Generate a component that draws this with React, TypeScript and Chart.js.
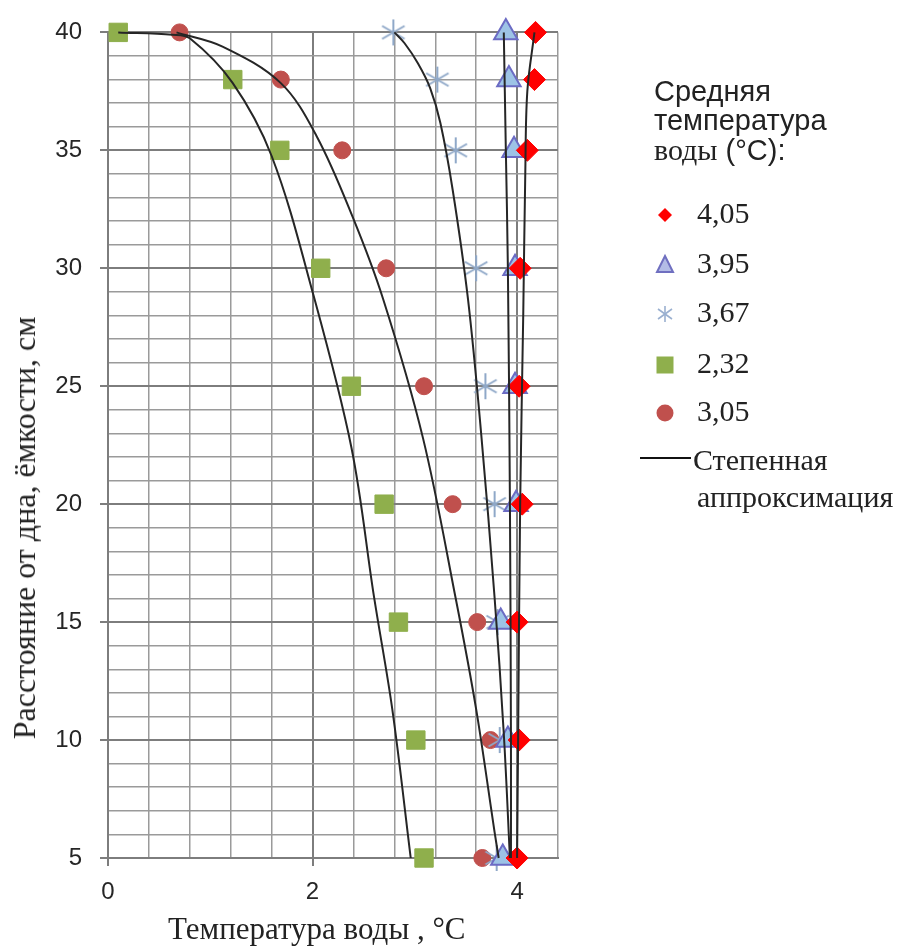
import React, { useEffect, useRef } from "react";
import { Chart, registerables } from "chart.js";

Chart.register(...registerables);

// ---- data ----
const DEPTHS = [40, 38, 35, 30, 25, 20, 15, 10, 5];
const T_405 = [4.18, 4.17, 4.1, 4.03, 4.02, 4.05, 4.0, 4.02, 4.0];
const T_395 = [3.89, 3.92, 3.97, 3.98, 3.98, 3.99, 3.84, 3.91, 3.86];
const T_367 = [2.79, 3.22, 3.4, 3.6, 3.69, 3.78, 3.81, 3.83, 3.8];
const T_232 = [0.1, 1.22, 1.68, 2.08, 2.38, 2.7, 2.84, 3.01, 3.09];
const T_305 = [0.7, 1.69, 2.29, 2.72, 3.09, 3.37, 3.61, 3.74, 3.66];

// power-approximation curves
const FIT_405_X = [4.17, 4.1, 4.08, 4.06, 4.03, 4.01, 4.0];
const FIT_405_Y = [40, 37.5, 34, 28, 20, 10, 5];
const FIT_395_X = [3.87, 3.89, 3.91, 3.93, 3.94, 3.94];
const FIT_395_Y = [40, 35, 30, 20, 10, 5];
const FIT_367_X = [2.8, 2.9, 3.03, 3.15, 3.25, 3.37, 3.52, 3.65, 3.78, 3.87, 3.93];
const FIT_367_Y = [40, 39.54, 38.69, 37.64, 36.16, 33.33, 28.69, 22.93, 16.04, 10.27, 5];
const FIT_232_X = [0.1, 0.63, 0.8, 1.22, 1.6, 2.0, 2.38, 2.6, 2.78, 2.96];
const FIT_232_Y = [40, 39.9, 39.75, 37.85, 34.76, 29.0, 22.4, 16.1, 11.3, 5];
const FIT_305_X = [0.67, 1.12, 1.69, 2.04, 2.39, 2.69, 3.08, 3.4, 3.6, 3.78, 3.82];
const FIT_305_Y = [40, 39.4, 37.85, 35.6, 32.2, 28.7, 22.8, 16.0, 11.3, 6.1, 5];

const SERIES_LABELS = ["4,05", "3,95", "3,67", "2,32", "3,05"];
const X_LABELED_TICKS = [0, 2, 4];
const Y_LABELED_TICKS = [5, 10, 15, 20, 25, 30, 35, 40];
const X_TITLE = "Температура воды , °C";
const Y_TITLE = "Расстояние от дна, ёмкости, см";
const LEGEND_TITLE = ["Средняя", "температура"];
const LEGEND_TITLE_LAST_SERIF = "воды";
const LEGEND_TITLE_LAST_SANS = " (°C):";
const FIT_LABEL = ["Степенная", "аппроксимация"];

const pts = (xs: number[], ys: number[]) => xs.map((x, i) => ({ x, y: ys[i] }));

const isLabeled = (list: number[], v: number) => list.some((t) => Math.abs(t - v) < 1e-6);

function makeAsterisk(size: number, color: string, lw: number) {
  const c = document.createElement("canvas");
  c.width = size;
  c.height = size;
  const g = c.getContext("2d")!;
  g.strokeStyle = color;
  g.lineWidth = lw;
  const m = size / 2;
  const r = size / 2 - 1;
  g.beginPath();
  g.moveTo(m, m - r);
  g.lineTo(m, m + r);
  const dx = r * Math.cos(Math.PI / 6);
  const dy = r * Math.sin(Math.PI / 6);
  g.moveTo(m - dx, m - dy);
  g.lineTo(m + dx, m + dy);
  g.moveTo(m - dx, m + dy);
  g.lineTo(m + dx, m - dy);
  g.stroke();
  return c;
}

const SANS = "'Liberation Sans', Arial, sans-serif";
const SERIF = "'Liberation Serif', 'Times New Roman', serif";

export default function App() {
  const ref = useRef<HTMLCanvasElement | null>(null);

  useEffect(() => {
    if (!ref.current) return;
    const star = makeAsterisk(28, "#8FA8C8", 2);
    const fitStyle = {
      type: "line" as const,
      showLine: true,
      borderColor: "#262626",
      borderWidth: 2,
      pointRadius: 0,
      tension: 0.35,
      fill: false,
      clip: false as any,
      order: 0,
    };
    const chart = new Chart(ref.current, {
      type: "scatter",
      data: {
        datasets: [
          { ...fitStyle, label: "fit405", data: pts(FIT_405_X, FIT_405_Y) },
          { ...fitStyle, label: "fit395", data: pts(FIT_395_X, FIT_395_Y) },
          { ...fitStyle, label: "fit367", data: pts(FIT_367_X, FIT_367_Y) },
          { ...fitStyle, label: "fit232", data: pts(FIT_232_X, FIT_232_Y) },
          { ...fitStyle, label: "fit305", data: pts(FIT_305_X, FIT_305_Y) },
          {
            label: SERIES_LABELS[0],
            data: pts(T_405, DEPTHS),
            pointStyle: "rectRot",
            pointRadius: 11,
            backgroundColor: "#FF0000",
            borderColor: "#FF0000",
            borderWidth: 1,
            clip: false as any,
            order: 1,
          },
          {
            label: SERIES_LABELS[1],
            data: pts(T_395, DEPTHS),
            pointStyle: "triangle",
            pointRadius: 13.5,
            backgroundColor: "#9DC3E6",
            borderColor: "#6B6BC4",
            borderWidth: 2,
            clip: false as any,
            order: 2,
          },
          {
            label: SERIES_LABELS[2],
            data: pts(T_367, DEPTHS),
            pointStyle: star as any,
            pointRadius: 14,
            clip: false as any,
            order: 3,
          },
          {
            label: SERIES_LABELS[3],
            data: pts(T_232, DEPTHS),
            pointStyle: "rect",
            pointRadius: 13,
            backgroundColor: "#8FAF4C",
            borderColor: "#8FAF4C",
            borderWidth: 1,
            clip: false as any,
            order: 4,
          },
          {
            label: SERIES_LABELS[4],
            data: pts(T_305, DEPTHS),
            pointStyle: "circle",
            pointRadius: 8.5,
            backgroundColor: "#C0504D",
            borderColor: "#C0504D",
            borderWidth: 1,
            clip: false as any,
            order: 5,
          },
        ] as any,
      },
      options: {
        responsive: false,
        animation: false,
        events: [],
        layout: { padding: { top: 29, right: 349, bottom: 0, left: 0 } },
        plugins: { legend: { display: false }, tooltip: { enabled: false } },
        scales: {
          x: {
            type: "linear",
            min: 0,
            max: 4.4,
            afterFit: (s: any) => {
              s.height = 88;
            },
            ticks: {
              stepSize: 0.4,
              autoSkip: false,
              maxRotation: 0,
              padding: 12,
              color: "#262626",
              font: { family: SANS, size: 24 },
              callback: (v: any) => (isLabeled(X_LABELED_TICKS, Number(v)) ? String(Math.round(Number(v))) : ""),
            },
            grid: {
              color: (c: any) => (isLabeled(X_LABELED_TICKS, c.tick?.value) ? "#7d7d7d" : "#9a9a9a"),
              lineWidth: (c: any) => (isLabeled(X_LABELED_TICKS, c.tick?.value) ? 2 : 1.5),
              tickColor: (c: any) => (isLabeled(X_LABELED_TICKS, c.tick?.value) ? "#7d7d7d" : "rgba(0,0,0,0)"),
              tickLength: 8,
            },
            border: { color: "#7d7d7d", width: 2 },
          },
          y: {
            type: "linear",
            min: 5,
            max: 40,
            afterFit: (s: any) => {
              s.width = 108;
            },
            ticks: {
              stepSize: 1,
              autoSkip: false,
              padding: 18,
              color: "#262626",
              font: { family: SANS, size: 24 },
              callback: (v: any) => (isLabeled(Y_LABELED_TICKS, Number(v)) ? String(v) : ""),
            },
            grid: {
              color: (c: any) => (isLabeled(Y_LABELED_TICKS, c.tick?.value) ? "#7d7d7d" : "#9a9a9a"),
              lineWidth: (c: any) => (isLabeled(Y_LABELED_TICKS, c.tick?.value) ? 2 : 1.5),
              tickColor: (c: any) => (isLabeled(Y_LABELED_TICKS, c.tick?.value) ? "#7d7d7d" : "rgba(0,0,0,0)"),
              tickLength: 8,
            },
            border: { color: "#7d7d7d", width: 2 },
          },
        },
      } as any,
    });
    return () => chart.destroy();
  }, []);

  const itemBaselines = [223, 273, 322, 373, 421];
  const markerCx = 25;
  const markerYs = itemBaselines.map((b) => b - 8 - 190);

  return (
    <div style={{ position: "absolute", left: 0, top: 0, width: 907, height: 946, background: "#fff", overflow: "hidden" }}>
      <canvas ref={ref} width={907} height={946} style={{ position: "absolute", left: 0, top: 0 }} />

      {/* axis titles */}
      <div
        style={{
          position: "absolute",
          left: 168,
          top: 913,
          fontFamily: SERIF,
          fontSize: 31,
          lineHeight: "31px",
          color: "#222",
          whiteSpace: "nowrap",
        }}
      >
        {X_TITLE}
      </div>
      <div
        style={{
          position: "absolute",
          left: 24,
          top: 528,
          transform: "translate(-50%, -50%) rotate(-90deg)",
          fontFamily: SERIF,
          fontSize: 32,
          lineHeight: "32px",
          color: "#222",
          whiteSpace: "nowrap",
        }}
      >
        {Y_TITLE}
      </div>

      {/* legend */}
      <div
        style={{
          position: "absolute",
          left: 654,
          top: 77,
          fontFamily: SANS,
          fontSize: 29,
          lineHeight: "29px",
          color: "#222",
          whiteSpace: "nowrap",
        }}
      >
        <div>{LEGEND_TITLE[0]}</div>
        <div>{LEGEND_TITLE[1]}</div>
        <div>
          <span style={{ fontFamily: SERIF, fontSize: 30 }}>{LEGEND_TITLE_LAST_SERIF}</span>
          {LEGEND_TITLE_LAST_SANS}
        </div>
      </div>

      <svg style={{ position: "absolute", left: 640, top: 190 }} width={50} height={250}>
        <polygon
          points={`${markerCx},${markerYs[0] - 7} ${markerCx + 7},${markerYs[0]} ${markerCx},${markerYs[0] + 7} ${markerCx - 7},${markerYs[0]}`}
          fill="#FF0000"
        />
        <polygon
          points={`${markerCx},${markerYs[1] - 9} ${markerCx + 8},${markerYs[1] + 7} ${markerCx - 8},${markerYs[1] + 7}`}
          fill="#B3BCE6"
          stroke="#6F6FC0"
          strokeWidth={2}
        />
        <g stroke="#9AB0D0" strokeWidth={1.6}>
          <line x1={markerCx} y1={markerYs[2] - 8} x2={markerCx} y2={markerYs[2] + 8} />
          <line x1={markerCx - 7} y1={markerYs[2] - 5} x2={markerCx + 7} y2={markerYs[2] + 5} />
          <line x1={markerCx - 7} y1={markerYs[2] + 5} x2={markerCx + 7} y2={markerYs[2] - 5} />
        </g>
        <rect x={markerCx - 8.5} y={markerYs[3] - 8.5} width={17} height={17} fill="#8FAF4C" />
        <circle cx={markerCx} cy={markerYs[4]} r={8.5} fill="#C0504D" />
      </svg>

      {SERIES_LABELS.map((lab, i) => (
        <div
          key={lab}
          style={{
            position: "absolute",
            left: 697,
            top: itemBaselines[i] - 25,
            fontFamily: SERIF,
            fontSize: 30,
            lineHeight: "30px",
            color: "#222",
            whiteSpace: "nowrap",
          }}
        >
          {lab}
        </div>
      ))}

      <div style={{ position: "absolute", left: 640, top: 457, width: 51, height: 2, background: "#111" }} />
      <div
        style={{
          position: "absolute",
          left: 693,
          top: 441,
          fontFamily: SERIF,
          fontSize: 30,
          lineHeight: "37px",
          color: "#222",
          whiteSpace: "nowrap",
        }}
      >
        <div>{FIT_LABEL[0]}</div>
        <div style={{ paddingLeft: 4 }}>{FIT_LABEL[1]}</div>
      </div>
    </div>
  );
}
